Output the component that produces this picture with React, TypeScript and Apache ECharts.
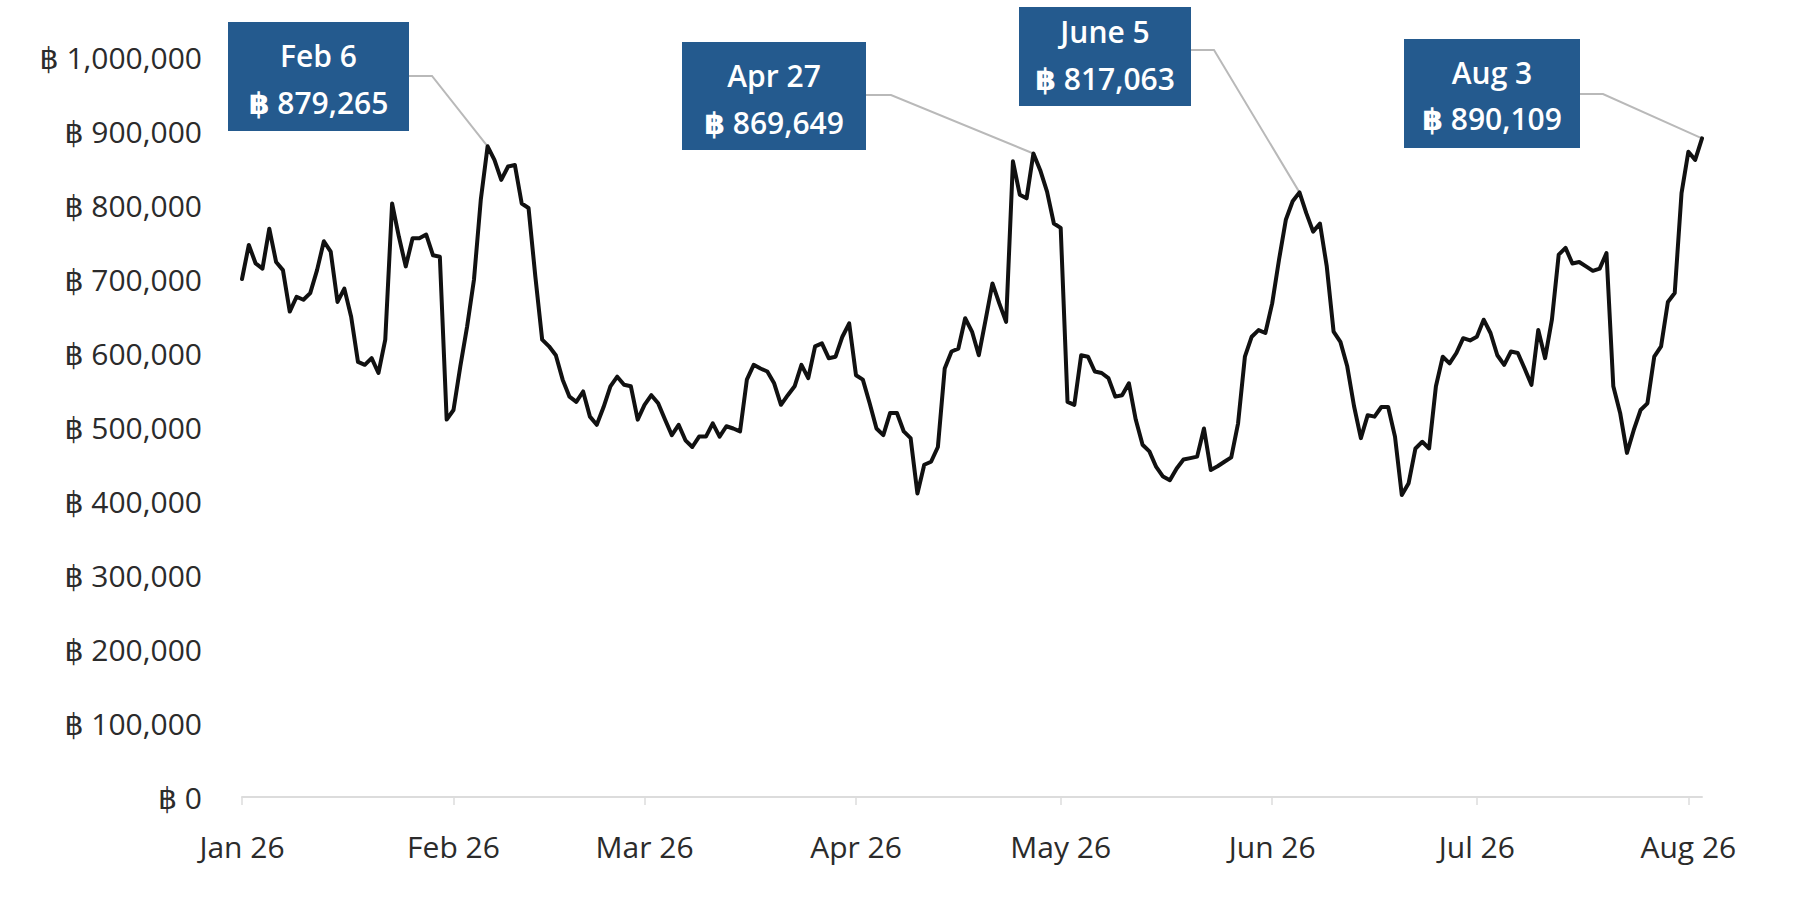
import React, { useEffect, useRef } from "react";
import * as echarts from "echarts";

// Daily closing values, Jan 1 2026 .. Aug 3 2026
const prices: number[] = [
  700000, 746000, 721000, 714000, 768000, 723000, 712000, 656000, 676000, 672000,
  681000, 712000, 751000, 737000, 669000, 687000, 649000, 588000, 584000, 593000,
  573000, 618000, 802000, 757000, 717000, 755000, 755000, 760000, 732000, 730000,
  510000, 523000, 582000, 636000, 699000, 807000, 879265, 861000, 834000, 852000,
  854000, 802000, 796000, 703000, 618000, 609000, 597000, 564000, 541000, 534000,
  548000, 514000, 503000, 527000, 555000, 568000, 557000, 555000, 510000, 530000,
  543000, 532000, 510000, 489000, 503000, 482000, 473000, 487000, 487000, 505000,
  487000, 501000, 498000, 494000, 564000, 584000, 579000, 575000, 559000, 530000,
  543000, 555000, 584000, 566000, 609000, 613000, 593000, 595000, 622000, 640000,
  570000, 564000, 532000, 498000, 489000, 519000, 519000, 494000, 485000, 410000,
  449000, 453000, 473000, 579000, 602000, 606000, 647000, 629000, 597000, 645000,
  694000, 667000, 642000, 859000, 814000, 809000, 869649, 847000, 818000, 775000,
  769000, 534000, 530000, 597000, 595000, 575000, 573000, 566000, 541000, 543000,
  559000, 510000, 476000, 467000, 446000, 433000, 428000, 444000, 456000, 458000,
  460000, 498000, 442000, 447000, 453000, 459000, 505000, 595000, 622000, 631000,
  627000, 667000, 726000, 780000, 805000, 817063, 789000, 764000, 775000, 717000,
  629000, 615000, 582000, 528000, 485000, 516000, 514000, 527000, 527000, 487000,
  408000, 424000, 471000, 480000, 471000, 555000, 595000, 586000, 600000, 620000,
  617000, 622000, 645000, 627000, 597000, 584000, 602000, 600000, 579000, 557000,
  631000, 593000, 645000, 733000, 742000, 721000, 723000, 717000, 711000, 714000,
  735000, 555000, 519000, 465000, 496000, 523000, 532000, 595000, 609000, 669000,
  681000, 816000, 872000, 861000, 890109,
];

const START_UTC = Date.UTC(2026, 0, 1);
const DAY_MS = 86400000;
const monthNames = ["Jan", "Feb", "Mar", "Apr", "May", "Jun", "Jul", "Aug", "Sep", "Oct", "Nov", "Dec"];
const dates: string[] = prices.map((_, i) => new Date(START_UTC + i * DAY_MS).toISOString().slice(0, 10));

const yMin = 0;
const yMax = 1000000;
const yStep = 100000;

// Annotated peaks (title, date)
const annotations = [
  { title: "Feb 6", date: "2026-02-06" },
  { title: "Apr 27", date: "2026-04-27" },
  { title: "June 5", date: "2026-06-05" },
  { title: "Aug 3", date: "2026-08-03" },
];

// Layout of the callout boxes (pixels)
const boxLayout = [
  { x: 228, y: 22, w: 181, h: 109, ex: 432, ey: 76, t1: 33, t2: 80 },
  { x: 682, y: 42, w: 184, h: 108, ex: 891, ey: 95, t1: 33, t2: 80 },
  { x: 1019, y: 7, w: 172, h: 99, ex: 1214, ey: 50, t1: 24, t2: 71 },
  { x: 1404, y: 39, w: 176, h: 109, ex: 1603, ey: 94, t1: 33, t2: 79 },
];

const fmtBaht = (v: number) => "\u0E3F " + Math.round(v).toLocaleString("en-US");
const isMonthStart = (idx: number) => dates[idx] !== undefined && dates[idx].slice(8, 10) === "01";
const monthLabel = (d: string) => monthNames[parseInt(d.slice(5, 7), 10) - 1] + " " + d.slice(2, 4);

const FONT = "'Open Sans', 'DejaVu Sans', sans-serif";

export default function App() {
  const ref = useRef<HTMLDivElement>(null);
  useEffect(() => {
    if (!ref.current) return;
    const chart = echarts.init(ref.current, undefined, { renderer: "svg" });
    chart.setOption({
      animation: false,
      backgroundColor: "#ffffff",
      grid: { left: 242, right: 98, top: 57, bottom: 115, containLabel: false },
      xAxis: {
        type: "category",
        data: dates,
        boundaryGap: false,
        axisLine: { show: true, lineStyle: { color: "#dcdcdc", width: 2 } },
        axisTick: {
          show: true,
          interval: (i: number) => isMonthStart(i),
          length: 8,
          lineStyle: { color: "#dcdcdc", width: 1.5 },
        },
        axisLabel: {
          interval: (i: number) => isMonthStart(i),
          formatter: (v: string) => monthLabel(v),
          color: "#2b2b2b",
          fontFamily: FONT,
          fontSize: 30,
          fontWeight: 500,
          margin: 34,
        },
        splitLine: { show: false },
      },
      yAxis: {
        type: "value",
        min: yMin,
        max: yMax,
        interval: yStep,
        axisLine: { show: false },
        axisTick: { show: false },
        splitLine: { show: false },
        axisLabel: {
          formatter: (v: number) => fmtBaht(v),
          color: "#2b2b2b",
          fontFamily: FONT,
          fontSize: 30,
          fontWeight: 500,
          margin: 40,
        },
      },
      series: [
        {
          type: "line",
          data: prices,
          showSymbol: false,
          symbol: "none",
          lineStyle: { color: "#111111", width: 4, join: "round", cap: "round" },
          z: 3,
        },
      ],
    });

    const graphics: any[] = [];
    annotations.forEach((a, k) => {
      const idx = dates.indexOf(a.date);
      const val = prices[idx];
      const pt = chart.convertToPixel({ xAxisIndex: 0, yAxisIndex: 0 }, [a.date, val]) as number[];
      const b = boxLayout[k];
      graphics.push({
        type: "polyline",
        z: 2,
        shape: { points: [[b.x + b.w, b.ey], [b.ex, b.ey], [pt[0], pt[1]]] },
        style: { stroke: "#b9b9b9", lineWidth: 2, fill: null },
      });
      graphics.push({
        type: "rect",
        z: 10,
        shape: { x: b.x, y: b.y, width: b.w, height: b.h },
        style: { fill: "#245a8e" },
      });
      graphics.push({
        type: "text",
        z: 11,
        x: b.x + b.w / 2,
        y: b.y + b.t1,
        style: {
          text: a.title,
          fill: "#ffffff",
          fontFamily: FONT,
          fontSize: 30,
          fontWeight: 600,
          align: "center",
          verticalAlign: "middle",
        },
      });
      graphics.push({
        type: "text",
        z: 11,
        x: b.x + b.w / 2,
        y: b.y + b.t2,
        style: {
          text: fmtBaht(val),
          fill: "#ffffff",
          fontFamily: FONT,
          fontSize: 30,
          fontWeight: 600,
          align: "center",
          verticalAlign: "middle",
        },
      });
    });
    chart.setOption({ graphic: graphics });

    return () => chart.dispose();
  }, []);

  return (
    <div
      ref={ref}
      style={{ position: "fixed", left: 0, top: 0, width: 1800, height: 912, background: "#fff" }}
    />
  );
}
